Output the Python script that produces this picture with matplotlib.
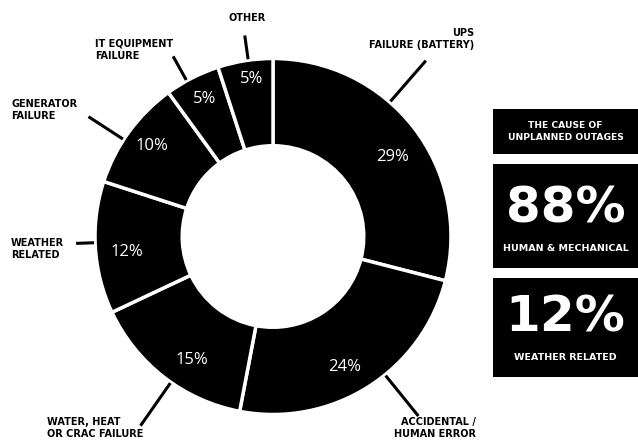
import numpy as np
import matplotlib.pyplot as plt
from matplotlib.patches import Rectangle

# data
causes = ["UPS\nFAILURE (BATTERY)", "ACCIDENTAL /\nHUMAN ERROR",
          "WATER, HEAT\nOR CRAC FAILURE", "WEATHER\nRELATED",
          "GENERATOR\nFAILURE", "IT EQUIPMENT\nFAILURE", "OTHER"]
shares = [29, 24, 15, 12, 10, 5, 5]
summary_title = "THE CAUSE OF\nUNPLANNED OUTAGES"
summary_values = ["88%", "12%"]
summary_labels = ["HUMAN & MECHANICAL", "WEATHER RELATED"]

# layout (pixels, measured from the top-left corner)
W, H = 638, 443
leader_angle = [49, -51, -125, -178, 147, 119, 98]
leader_len = [233, 231, 231, 197, 220, 206, 203]
label_pos = [(474, 39, "right"), (476, 428, "right"), (47, 428, "left"),
             (11, 249, "left"), (11, 110, "left"), (95, 50, "left"),
             (247, 18, "center")]
pct_pos = [(393, 157), (345, 367), (192, 360), (127, 252),
           (152, 146), (205, 99), (252, 79)]
boxes = [(109, 154), (164, 268), (278, 377)]


def Y(y):
    return H - y


fig = plt.figure(figsize=(W / 100, H / 100), dpi=100)
ax = fig.add_axes([0, 0, 1, 1])

cx, cy, R = 273, Y(236.5), 178
wedges, _, pcts = ax.pie(
    shares, center=(cx, cy), radius=R, startangle=90, counterclock=False,
    colors=["black"] * len(shares), autopct="%d%%", pctdistance=0.85,
    wedgeprops=dict(width=R * 0.49, edgecolor="white", linewidth=2.5),
    textprops=dict(color="white", fontsize=12, family="Open Sans"),
    frame=True)
for t, (px, py) in zip(pcts, pct_pos):
    t.set_position((px, Y(py)))
ax.set_xlim(0, W)
ax.set_ylim(0, H)
ax.set_aspect("auto")
ax.axis("off")

# leader lines and outer labels
for ang, ln, lab, (lx, ly, ha) in zip(leader_angle, leader_len, causes, label_pos):
    a = np.radians(ang)
    ax.plot([cx + (R + 1) * np.cos(a), cx + ln * np.cos(a)],
            [cy + (R + 1) * np.sin(a), cy + ln * np.sin(a)],
            color="black", lw=2.2, solid_capstyle="butt")
    ax.text(lx, Y(ly), lab, ha=ha, va="center", fontsize=7,
            fontweight="bold", linespacing=1.3, color="black")

# summary panels
for top, bot in boxes:
    ax.add_patch(Rectangle((493, Y(bot)), W - 493, bot - top,
                           color="black", lw=0))
xc = (493 + W) / 2
ax.text(xc, Y(131.5), summary_title, ha="center", va="center",
        fontsize=6.6, fontweight="bold", color="white", linespacing=1.4)
for val, lab, vy, ly in zip(summary_values, summary_labels, [208, 318], [248, 357]):
    ax.text(xc, Y(vy), val, ha="center", va="center", fontsize=36,
            fontweight="bold", color="white")
    ax.text(xc, Y(ly), lab, ha="center", va="center", fontsize=6.8,
            fontweight="bold", color="white")

fig.savefig("out.png", dpi=100)
